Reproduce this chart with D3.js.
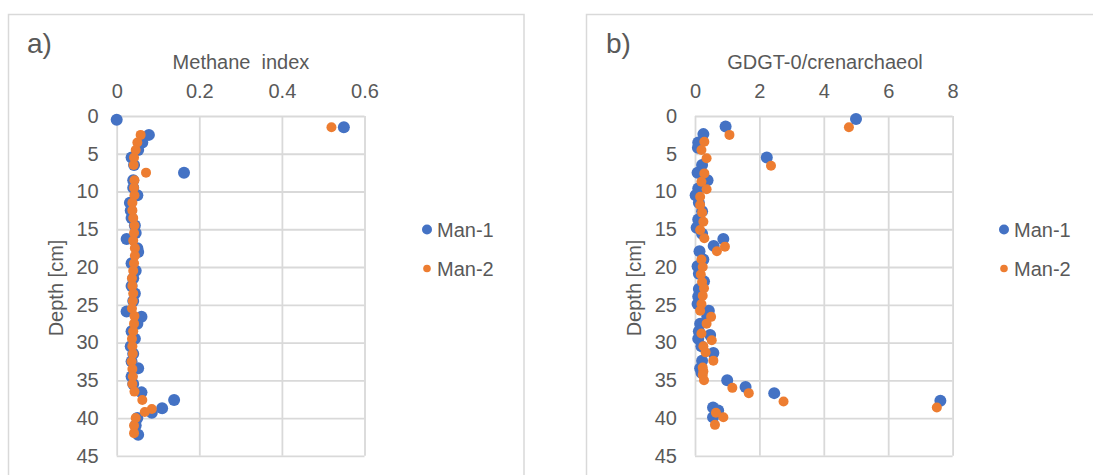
<!DOCTYPE html>
<html>
<head>
<meta charset="utf-8">
<script src="https://cdn.jsdelivr.net/npm/d3@7"></script>
<style>
  html, body { margin: 0; padding: 0; background: #ffffff; }
  svg { display: block; font-family: "Liberation Sans", Arial, sans-serif; }
  text { fill: #595959; }
</style>
</head>
<body>
<svg id="chart" width="1093" height="475"></svg>
<script>
// ---- Panel a: methane index vs depth ----
const methDepth1 = [0.5, 1.5, 2.5, 3.5, 4.5, 5.5, 6.5, 7.5, 8.5, 9.5, 10.5, 11.5, 12.5, 13.5, 14.5, 15.5, 16.3, 17.5, 18.0, 19.5, 20.5, 21.5, 22.5, 23.5, 24.5, 25.9, 26.6, 27.5, 28.5, 29.5, 30.5, 31.5, 32.5, 33.4, 34.5, 35.5, 36.6, 37.6, 38.7, 39.3, 40.0, 41.0, 42.2];
const methMan1   = [0.000, 0.550, 0.078, 0.062, 0.052, 0.036, 0.042, 0.163, 0.040, 0.040, 0.050, 0.032, 0.034, 0.036, 0.044, 0.046, 0.024, 0.050, 0.052, 0.036, 0.046, 0.040, 0.036, 0.044, 0.040, 0.024, 0.060, 0.050, 0.036, 0.044, 0.034, 0.040, 0.036, 0.052, 0.036, 0.040, 0.060, 0.139, 0.110, 0.085, 0.050, 0.046, 0.052];
const methDepth2 = [1.5, 2.5, 3.5, 4.5, 5.5, 6.5, 7.5, 8.5, 9.5, 10.5, 11.5, 12.5, 13.5, 14.5, 15.5, 16.5, 17.5, 18.5, 19.5, 20.5, 21.5, 22.5, 23.5, 24.5, 25.5, 26.5, 27.5, 28.5, 29.5, 30.5, 31.5, 32.5, 33.5, 34.5, 35.5, 36.5, 37.6, 38.8, 39.2, 40.0, 41.0, 42.0];
const methMan2   = [0.520, 0.058, 0.050, 0.046, 0.042, 0.041, 0.071, 0.043, 0.042, 0.043, 0.038, 0.038, 0.040, 0.043, 0.042, 0.040, 0.044, 0.044, 0.042, 0.040, 0.037, 0.038, 0.040, 0.039, 0.037, 0.043, 0.042, 0.040, 0.037, 0.038, 0.039, 0.036, 0.038, 0.039, 0.038, 0.043, 0.062, 0.085, 0.068, 0.046, 0.042, 0.042];

// ---- Panel b: GDGT-0/crenarchaeol vs depth ----
const gdgtDepth1 = [0.4, 1.4, 2.4, 3.5, 4.2, 5.5, 6.5, 7.5, 8.5, 9.6, 10.5, 11.5, 12.6, 13.7, 14.8, 15.6, 16.3, 17.2, 17.9, 19.0, 19.9, 20.9, 21.9, 22.9, 23.9, 24.9, 25.8, 26.6, 27.5, 28.5, 29.0, 29.5, 30.5, 31.4, 32.4, 33.4, 34.0, 35.0, 35.9, 36.7, 37.7, 38.6, 39.0, 39.9];
const gdgtMan1   = [5.00, 0.95, 0.26, 0.10, 0.09, 2.23, 0.22, 0.08, 0.39, 0.10, 0.02, 0.12, 0.22, 0.10, 0.05, 0.22, 0.88, 0.58, 0.14, 0.26, 0.08, 0.12, 0.28, 0.12, 0.10, 0.08, 0.43, 0.38, 0.16, 0.12, 0.47, 0.10, 0.20, 0.57, 0.22, 0.16, 0.20, 1.00, 1.57, 2.46, 7.62, 0.56, 0.72, 0.56];
const gdgtDepth2 = [1.5, 2.5, 3.4, 4.5, 5.6, 6.6, 7.6, 8.7, 9.7, 10.7, 11.8, 12.8, 14.0, 15.1, 16.2, 17.3, 17.9, 19.0, 20.0, 21.0, 22.0, 22.8, 23.8, 24.9, 25.8, 26.6, 27.5, 28.8, 29.7, 30.5, 31.3, 32.4, 33.3, 33.8, 34.3, 35.0, 36.0, 36.7, 37.8, 38.6, 39.3, 39.9, 40.9];
const gdgtMan2   = [4.78, 1.07, 0.29, 0.20, 0.36, 2.36, 0.29, 0.20, 0.36, 0.16, 0.16, 0.22, 0.26, 0.16, 0.29, 0.93, 0.68, 0.20, 0.24, 0.18, 0.22, 0.28, 0.24, 0.20, 0.16, 0.50, 0.36, 0.20, 0.52, 0.26, 0.33, 0.57, 0.24, 0.26, 0.24, 0.28, 1.16, 1.67, 2.75, 7.51, 0.65, 0.88, 0.62];

// ---- Axis ticks and labels ----
const methTicks  = [0, 0.2, 0.4, 0.6];
const gdgtTicks  = [0, 2, 4, 6, 8];
const depthTicks = [0, 5, 10, 15, 20, 25, 30, 35, 40, 45];
const seriesNames = ["Man-1", "Man-2"];
const seriesColors = ["#4472C4", "#ED7D31"];

const svg = d3.select("#chart");
const GRID = "#d9d9d9";
const FONT = 20;

function panel(cfg) {
  const g = svg.append("g");

  // outer chart frame
  g.append("rect")
    .attr("x", cfg.frame[0]).attr("y", cfg.frame[1])
    .attr("width", cfg.frame[2]).attr("height", cfg.frame[3])
    .attr("fill", "none").attr("stroke", GRID).attr("stroke-width", 1.5);

  const x = d3.scaleLinear().domain(cfg.xDomain).range([cfg.left, cfg.right]);
  const y = d3.scaleLinear().domain([0, 45]).range([cfg.top, cfg.bottom]);

  // gridlines
  const gx = g.append("g").attr("transform", `translate(0,${cfg.top})`)
    .call(d3.axisTop(x).tickValues(cfg.xTicks).tickSize(-(cfg.bottom - cfg.top)).tickFormat(""));
  const gy = g.append("g").attr("transform", `translate(${cfg.left},0)`)
    .call(d3.axisLeft(y).tickValues(depthTicks).tickSize(-(cfg.right - cfg.left)).tickFormat(""));
  [gx, gy].forEach(a => {
    a.select(".domain").remove();
    a.selectAll(".tick line").attr("stroke", GRID).attr("stroke-width", 1.8);
  });

  // tick labels
  const lx = g.append("g").attr("transform", `translate(0,${cfg.top - 25})`)
    .call(d3.axisTop(x).tickValues(cfg.xTicks).tickSize(0).tickPadding(0).tickFormat(d => String(d)));
  const ly = g.append("g").attr("transform", `translate(${cfg.left - 18},0)`)
    .call(d3.axisLeft(y).tickValues(depthTicks).tickSize(0).tickPadding(0).tickFormat(d => String(d)));
  [lx, ly].forEach(a => {
    a.select(".domain").remove();
    a.selectAll("text").attr("font-size", FONT).attr("font-family", "Liberation Sans, Arial, sans-serif").attr("fill", "#595959");
  });
  lx.selectAll("text").attr("dy", "0.35em");

  // titles
  g.append("text").attr("x", cfg.tagX).attr("y", 43).attr("dy", "0.35em")
    .attr("font-size", 28).text(cfg.tag);
  g.append("text").attr("x", cfg.titleX).attr("y", 62).attr("dy", "0.35em")
    .attr("text-anchor", "middle").attr("font-size", FONT)
    .style("white-space", "pre").text(cfg.title);
  g.append("text")
    .attr("transform", `translate(${cfg.yTitleX},288) rotate(-90)`)
    .attr("dy", "0.35em").attr("text-anchor", "middle").attr("font-size", FONT)
    .text("Depth [cm]");

  // points: Man-1 first, Man-2 drawn on top
  const radii = [6, 5];
  cfg.series.forEach((s, i) => {
    g.append("g").selectAll("circle")
      .data(s.values.map((v, k) => ({ v, d: s.depth[k] })))
      .join("circle")
      .attr("cx", p => x(p.v)).attr("cy", p => y(p.d))
      .attr("r", radii[i]).attr("fill", seriesColors[i]);
  });

  // legend
  const legendR = [5, 3.8];
  seriesNames.forEach((name, i) => {
    const ly0 = 229.5 + i * 39;
    g.append("circle").attr("cx", cfg.legendX).attr("cy", ly0)
      .attr("r", legendR[i]).attr("fill", seriesColors[i]);
    g.append("text").attr("x", cfg.legendX + 10).attr("y", ly0).attr("dy", "0.35em")
      .attr("font-size", FONT).text(name);
  });
}

panel({
  frame: [8.5, 14.5, 515.5, 480],
  xDomain: [0, 0.6], xTicks: methTicks,
  left: 116.7, right: 364.5, top: 116, bottom: 455.8,
  tag: "a)", tagX: 27, title: "Methane  index", titleX: 241, yTitleX: 56,
  legendX: 427,
  series: [
    { depth: methDepth1, values: methMan1 },
    { depth: methDepth2, values: methMan2 }
  ]
});

panel({
  frame: [586.5, 14.5, 560, 480],
  xDomain: [0, 8], xTicks: gdgtTicks,
  left: 695, right: 952.6, top: 116, bottom: 455.8,
  tag: "b)", tagX: 606, title: "GDGT-0/crenarchaeol", titleX: 825, yTitleX: 634,
  legendX: 1004,
  series: [
    { depth: gdgtDepth1, values: gdgtMan1 },
    { depth: gdgtDepth2, values: gdgtMan2 }
  ]
});
</script>
</body>
</html>
